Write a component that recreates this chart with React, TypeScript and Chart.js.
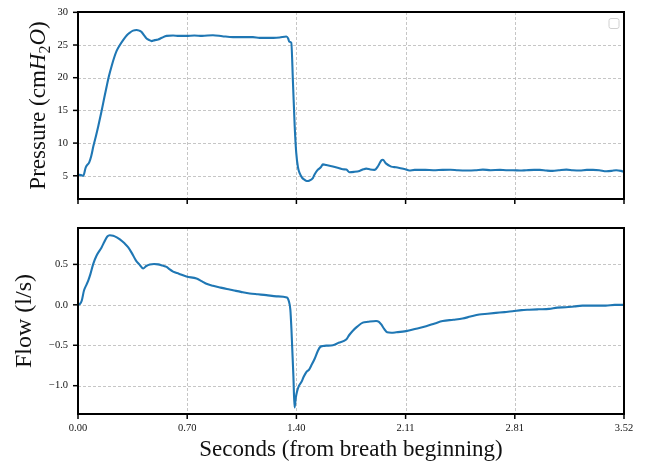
import React, { useEffect, useRef } from 'react';
import { Chart, registerables } from 'chart.js';

Chart.register(...registerables);

const FONT = '"Liberation Serif", "DejaVu Serif", serif';
const LINE_COLOR = '#1f77b4';
const TEXT_COLOR = '#111111';

// ---- Data ----
const TIME_P = [
  0.0, 0.02, 0.034, 0.05, 0.073, 0.085, 0.099, 0.115, 0.131, 0.152, 0.17, 0.185, 0.2, 0.217, 0.235, 0.249,
  0.27, 0.292, 0.315, 0.335, 0.355, 0.378, 0.395, 0.41, 0.425, 0.442, 0.46, 0.474, 0.495, 0.517, 0.54, 0.571,
  0.613, 0.65, 0.699, 0.75, 0.8, 0.87, 0.93, 0.999, 1.06, 1.128, 1.17, 1.214, 1.26, 1.3, 1.343, 1.355, 1.362,
  1.375, 1.386, 1.397, 1.407, 1.418, 1.429, 1.445, 1.46, 1.475, 1.49, 1.514, 1.525, 1.545, 1.565, 1.579, 1.6,
  1.643, 1.68, 1.707, 1.73, 1.75, 1.78, 1.815, 1.84, 1.858, 1.885, 1.911, 1.935, 1.955, 1.965, 1.985, 2.019,
  2.05, 2.072, 2.11, 2.136, 2.17, 2.2, 2.24, 2.29, 2.35, 2.4, 2.45, 2.505, 2.56, 2.61, 2.66, 2.72, 2.76, 2.805,
  2.85, 2.89, 2.94, 2.977, 3.02, 3.06, 3.1, 3.149, 3.19, 3.234, 3.28, 3.32, 3.36, 3.406, 3.44, 3.47, 3.5, 3.52,
];
const PRESSURE = [
  5.15, 5.1, 5.0, 6.3, 7.1, 8.0, 9.5, 11.0, 12.6, 14.9, 17.0, 18.7, 20.3, 21.8, 23.2, 24.1,
  25.0, 25.8, 26.5, 26.9, 27.2, 27.3, 27.2, 27.0, 26.5, 26.0, 25.75, 25.6, 25.75, 25.85, 26.1, 26.4,
  26.45, 26.4, 26.4, 26.45, 26.4, 26.5, 26.35, 26.2, 26.2, 26.2, 26.1, 26.1, 26.1, 26.15, 26.3, 26.0, 25.5,
  25.35, 19.2, 12.6, 8.5, 6.3, 5.4, 4.7, 4.4, 4.2, 4.25, 4.65, 5.2, 5.9, 6.3, 6.75, 6.65,
  6.43, 6.2, 6.0, 5.95, 5.55, 5.6, 5.75, 6.0, 6.1, 5.95, 5.9, 6.5, 7.35, 7.45, 6.9, 6.4,
  6.3, 6.2, 6.0, 5.8, 5.9, 5.9, 5.9, 5.85, 5.9, 5.92, 5.85, 5.82, 5.85, 5.95, 5.85, 5.9, 5.85, 5.85,
  5.8, 5.85, 5.9, 5.9, 5.8, 5.75, 5.85, 5.95, 5.85, 5.8, 5.9, 5.9, 5.85, 5.7, 5.75, 5.85, 5.75, 5.6,
];

const TIME_F = [
  0.0, 0.012, 0.024, 0.039, 0.055, 0.066, 0.08, 0.099, 0.12, 0.152, 0.17, 0.189, 0.205, 0.227, 0.25, 0.27,
  0.3, 0.324, 0.35, 0.373, 0.395, 0.42, 0.44, 0.463, 0.49, 0.517, 0.545, 0.571, 0.59, 0.613, 0.65, 0.699,
  0.764, 0.8, 0.828, 0.87, 0.914, 0.96, 0.999, 1.05, 1.107, 1.16, 1.214, 1.28, 1.347, 1.36, 1.369, 1.376,
  1.381, 1.389, 1.396, 1.404, 1.411, 1.425, 1.44, 1.455, 1.471, 1.49, 1.504, 1.525, 1.546, 1.562, 1.579,
  1.6, 1.643, 1.68, 1.729, 1.75, 1.772, 1.8, 1.836, 1.87, 1.922, 1.94, 1.954, 1.975, 1.993, 2.02, 2.051,
  2.115, 2.18, 2.244, 2.3, 2.351, 2.42, 2.479, 2.53, 2.587, 2.64, 2.694, 2.75, 2.801, 2.86, 2.909, 2.97,
  3.037, 3.09, 3.145, 3.2, 3.252, 3.33, 3.402, 3.46, 3.52,
];
const FLOW = [
  0.0, 0.01, 0.05, 0.18, 0.25, 0.3, 0.38, 0.51, 0.61, 0.71, 0.78, 0.845, 0.86, 0.855, 0.835, 0.81,
  0.76, 0.71, 0.63, 0.55, 0.5, 0.45, 0.48, 0.5, 0.505, 0.5, 0.485, 0.47, 0.44, 0.41, 0.385, 0.35,
  0.325, 0.29, 0.26, 0.235, 0.215, 0.195, 0.18, 0.16, 0.14, 0.13, 0.12, 0.105, 0.09, 0.04, -0.06, -0.3,
  -0.53, -0.9, -1.27, -1.15, -1.08, -1.0, -0.955, -0.89, -0.835, -0.8, -0.75, -0.67, -0.57, -0.52, -0.51,
  -0.505, -0.5, -0.47, -0.43, -0.37, -0.32, -0.27, -0.22, -0.21, -0.2, -0.21, -0.24, -0.3, -0.34, -0.345, -0.34,
  -0.325, -0.295, -0.265, -0.23, -0.2, -0.185, -0.17, -0.145, -0.12, -0.11, -0.1, -0.09, -0.08, -0.065, -0.06, -0.055,
  -0.05, -0.035, -0.03, -0.02, -0.01, -0.01, -0.01, 0.0, 0.0,
];

const X_TICKS = [0, 0.704, 1.408, 2.112, 2.816, 3.52];
const X_TICK_LABELS = ['0.00', '0.70', '1.40', '2.11', '2.81', '3.52'];
const P_TICKS = [5, 10, 15, 20, 25, 30];
const P_TICK_LABELS = ['5', '10', '15', '20', '25', '30'];
const F_TICKS = [-1.0, -0.5, 0.0, 0.5];
const F_TICK_LABELS = ['\u22121.0', '\u22120.5', '0.0', '0.5'];

const X_LABEL = 'Seconds (from breath beginning)';
const FLOW_LABEL = 'Flow (l/s)';

function makeFramePlugin(opts: { legendBox: boolean; pressureLabel: boolean }) {
  return {
    id: 'frame',
    beforeDatasetsDraw(chart: any) {
      const { ctx, chartArea: a, scales } = chart;
      ctx.save();
      ctx.strokeStyle = '#b8b8b8';
      ctx.lineWidth = 0.8;
      ctx.setLineDash([3, 2]);
      for (const t of scales.x.ticks) {
        const px = Math.round(scales.x.getPixelForValue(t.value)) + 0.5;
        ctx.beginPath();
        ctx.moveTo(px, a.top);
        ctx.lineTo(px, a.bottom);
        ctx.stroke();
      }
      for (const t of scales.y.ticks) {
        const py = Math.round(scales.y.getPixelForValue(t.value)) + 0.5;
        ctx.beginPath();
        ctx.moveTo(a.left, py);
        ctx.lineTo(a.right, py);
        ctx.stroke();
      }
      ctx.restore();
    },
    afterDatasetsDraw(chart: any) {
      const { ctx, chartArea: a, scales } = chart;
      ctx.save();
      ctx.setLineDash([]);
      ctx.strokeStyle = '#000';
      ctx.lineWidth = 2;
      ctx.strokeRect(a.left, a.top, a.right - a.left, a.bottom - a.top);
      ctx.lineWidth = 1.5;
      for (const t of scales.x.ticks) {
        const px = scales.x.getPixelForValue(t.value);
        ctx.beginPath();
        ctx.moveTo(px, a.bottom);
        ctx.lineTo(px, a.bottom + 5);
        ctx.stroke();
      }
      for (const t of scales.y.ticks) {
        const py = scales.y.getPixelForValue(t.value);
        ctx.beginPath();
        ctx.moveTo(a.left - 5, py);
        ctx.lineTo(a.left, py);
        ctx.stroke();
      }
      if (opts.legendBox) {
        const x = a.right - 15;
        const y = a.top + 6.5;
        const w = 10;
        const h = 10;
        const r = 2;
        ctx.beginPath();
        ctx.moveTo(x + r, y);
        ctx.arcTo(x + w, y, x + w, y + h, r);
        ctx.arcTo(x + w, y + h, x, y + h, r);
        ctx.arcTo(x, y + h, x, y, r);
        ctx.arcTo(x, y, x + w, y, r);
        ctx.closePath();
        ctx.fillStyle = 'rgba(255,255,255,0.8)';
        ctx.fill();
        ctx.strokeStyle = '#d0d0d0';
        ctx.lineWidth = 1;
        ctx.stroke();
      }
      if (opts.pressureLabel) {
        const size = 23;
        const segs = [
          { t: 'Pressure (cm', f: `${size}px ${FONT}`, dy: 0 },
          { t: 'H', f: `italic ${size}px ${FONT}`, dy: 0 },
          { t: '2', f: `${Math.round(size * 0.7)}px ${FONT}`, dy: 5 },
          { t: 'O', f: `italic ${size}px ${FONT}`, dy: 0 },
          { t: ')', f: `${size}px ${FONT}`, dy: 0 },
        ];
        let total = 0;
        const widths: number[] = [];
        for (const s of segs) {
          ctx.font = s.f;
          const w = ctx.measureText(s.t).width;
          widths.push(w);
          total += w;
        }
        ctx.translate(45, (a.top + a.bottom) / 2);
        ctx.rotate(-Math.PI / 2);
        ctx.fillStyle = TEXT_COLOR;
        ctx.textBaseline = 'alphabetic';
        ctx.textAlign = 'left';
        let cx = -total / 2;
        segs.forEach((s, i) => {
          ctx.font = s.f;
          ctx.fillText(s.t, cx, s.dy);
          cx += widths[i];
        });
      }
      ctx.restore();
    },
  };
}

const xScale = (showLabels: boolean, height: number) => ({
  type: 'linear',
  min: 0,
  max: 3.52,
  grid: { display: false, drawTicks: true, tickLength: 8 },
  border: { display: false },
  afterBuildTicks: (scale: any) => {
    scale.ticks = X_TICKS.map((v) => ({ value: v }));
  },
  afterFit: (scale: any) => {
    scale.height = height;
  },
  ticks: {
    display: showLabels,
    autoSkip: false,
    maxRotation: 0,
    padding: 0,
    color: TEXT_COLOR,
    font: { family: FONT, size: 10.5 },
    callback: (_v: any, i: number) => X_TICK_LABELS[i],
  },
  title: showLabels
    ? {
        display: true,
        text: X_LABEL,
        color: TEXT_COLOR,
        font: { family: FONT, size: 23, lineHeight: 1 },
        padding: { top: 0, bottom: 1 },
      }
    : { display: false },
});

const yScale = (min: number, max: number, ticks: number[], labels: string[]) => ({
  type: 'linear',
  min,
  max,
  grid: { display: false, drawTicks: true, tickLength: 10 },
  border: { display: false },
  afterBuildTicks: (scale: any) => {
    scale.ticks = ticks.map((v) => ({ value: v }));
  },
  afterFit: (scale: any) => {
    scale.width = 78;
  },
  ticks: {
    padding: 0,
    color: TEXT_COLOR,
    font: { family: FONT, size: 10.5 },
    callback: (_v: any, i: number) => labels[i],
  },
});

function topConfig(): any {
  return {
    type: 'line',
    data: {
      datasets: [
        {
          data: TIME_P.map((t, i) => ({ x: t, y: PRESSURE[i] })),
          borderColor: LINE_COLOR,
          borderWidth: 2.1,
          pointRadius: 0,
          cubicInterpolationMode: 'monotone',
          fill: false,
        },
      ],
    },
    options: {
      responsive: false,
      animation: false,
      devicePixelRatio: 1,
      layout: { padding: { top: 12, right: 22, left: 0, bottom: 0 } },
      plugins: { legend: { display: false }, tooltip: { enabled: false } },
      scales: {
        x: xScale(false, 14),
        y: yScale(1.45, 30.05, P_TICKS, P_TICK_LABELS),
      },
    },
    plugins: [makeFramePlugin({ legendBox: true, pressureLabel: true })],
  };
}

function bottomConfig(): any {
  const y: any = yScale(-1.35, 0.95, F_TICKS, F_TICK_LABELS);
  y.title = {
    display: true,
    text: FLOW_LABEL,
    color: TEXT_COLOR,
    font: { family: FONT, size: 24, lineHeight: 1 },
    padding: { top: 13, bottom: 0 },
  };
  return {
    type: 'line',
    data: {
      datasets: [
        {
          data: TIME_F.map((t, i) => ({ x: t, y: FLOW[i] })),
          borderColor: LINE_COLOR,
          borderWidth: 2.1,
          pointRadius: 0,
          cubicInterpolationMode: 'monotone',
          fill: false,
        },
      ],
    },
    options: {
      responsive: false,
      animation: false,
      devicePixelRatio: 1,
      layout: { padding: { top: 15, right: 22, left: 0, bottom: 0 } },
      plugins: { legend: { display: false }, tooltip: { enabled: false } },
      scales: {
        x: xScale(true, 48),
        y,
      },
    },
    plugins: [makeFramePlugin({ legendBox: false, pressureLabel: false })],
  };
}

export default function App() {
  const topRef = useRef<HTMLCanvasElement>(null);
  const botRef = useRef<HTMLCanvasElement>(null);
  useEffect(() => {
    const c1 = new Chart(topRef.current as HTMLCanvasElement, topConfig());
    const c2 = new Chart(botRef.current as HTMLCanvasElement, bottomConfig());
    return () => {
      c1.destroy();
      c2.destroy();
    };
  }, []);
  return (
    <div style={{ position: 'fixed', left: 0, top: 0, width: 646, height: 462, background: '#fff' }}>
      <canvas
        ref={topRef}
        width={646}
        height={213}
        style={{ position: 'absolute', left: 0, top: 0, width: 646, height: 213 }}
      />
      <canvas
        ref={botRef}
        width={646}
        height={249}
        style={{ position: 'absolute', left: 0, top: 213, width: 646, height: 249 }}
      />
    </div>
  );
}
